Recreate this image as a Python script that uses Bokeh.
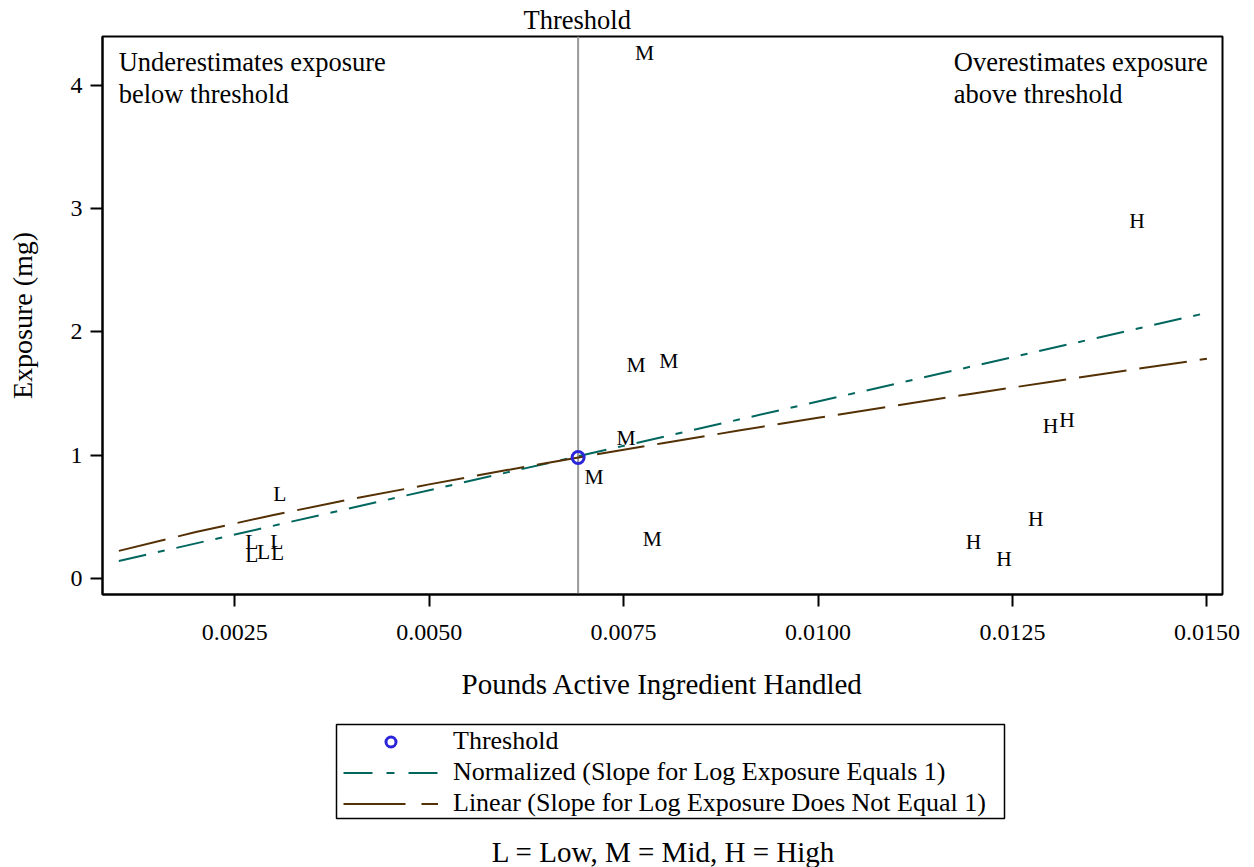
from bokeh.plotting import figure
from bokeh.layouts import column
from bokeh.models import (Span, Label, Legend, LegendItem, NumeralTickFormatter,
                          FixedTicker, Range1d, BoxAnnotation)
from bokeh.core.properties import value
from bokeh.embed import file_html
from bokeh.resources import INLINE

FONT = "Liberation Serif"
NAN = float("nan")

# ---- data ----
x_ticks = [0.0025, 0.0050, 0.0075, 0.0100, 0.0125, 0.0150]
y_ticks = [0, 1, 2, 3, 4]

low_x = [0.00308, 0.00272, 0.00272, 0.00287, 0.00304, 0.00305]
low_y = [0.684, 0.292, 0.188, 0.216, 0.292, 0.208]

mid_x = [0.00777, 0.00766, 0.00808, 0.00753, 0.00712, 0.00787]
mid_y = [4.260, 1.728, 1.765, 1.140, 0.818, 0.319]

high_x = [0.01410, 0.01299, 0.01320, 0.01280, 0.01200, 0.01239]
high_y = [2.904, 1.237, 1.284, 0.481, 0.297, 0.157]

threshold_x = [0.006915]
threshold_y = [0.980]

norm_x = [0.00101, 0.01500]
norm_y = [0.140, 2.155]

lin_x = [0.00101, 0.002, 0.003, 0.004, 0.005, 0.006, 0.007, 0.008,
         0.009, 0.010, 0.011, 0.012, 0.013, 0.014, 0.015]
lin_y = [0.222, 0.375, 0.514, 0.642, 0.762, 0.878, 0.989, 1.096,
         1.201, 1.303, 1.402, 1.500, 1.596, 1.690, 1.782]

legend_labels = ["Threshold",
                 "Normalized (Slope for Log Exposure Equals 1)",
                 "Linear (Slope for Log Exposure Does Not Equal 1)"]
footnote = "L = Low, M = Mid, H = High"

TEAL = "#01665E"
BROWN = "#543005"
BLUE = "#2A25D9"

# ---------------- main plot ----------------
p = figure(width=1254, height=710,
           x_range=Range1d(0.0008, 0.0152), y_range=Range1d(-0.132, 4.398),
           output_backend="svg", toolbar_location=None,
           min_border_left=102, min_border_right=32, min_border_top=35,
           min_border_bottom=116)

p.title.text = "Threshold"
p.title.align = "left"
p.title.offset = 421
p.title.text_font = FONT
p.title.text_font_size = "26.5px"
p.title.text_font_style = "normal"
p.title.text_color = "black"
p.title.standoff = 4

p.xgrid.visible = False
p.ygrid.visible = False
p.outline_line_color = "black"
p.outline_line_width = 2
p.outline_line_alpha = 1

p.xaxis.ticker = FixedTicker(ticks=x_ticks)
p.yaxis.ticker = FixedTicker(ticks=y_ticks)
p.xaxis.formatter = NumeralTickFormatter(format="0.0000")
p.xaxis.axis_label = "Pounds Active Ingredient Handled"
p.yaxis.axis_label = "Exposure (mg)"
for ax in (p.xaxis, p.yaxis):
    ax.axis_line_width = 2
    ax.axis_line_color = "black"
    ax.major_tick_out = 12
    ax.major_tick_in = 0
    ax.major_tick_line_width = 2
    ax.major_tick_line_color = "black"
    ax.minor_tick_line_color = None
    ax.major_label_text_font = FONT
    ax.major_label_text_font_size = "24px"
    ax.major_label_text_color = "black"
    ax.axis_label_text_font = FONT
    ax.axis_label_text_font_style = "normal"
    ax.axis_label_text_color = "black"
p.xaxis.axis_label_text_font_size = "29px"
p.yaxis.axis_label_text_font_size = "28px"
p.xaxis.major_label_standoff = 18
p.xaxis.axis_label_standoff = 25
p.yaxis.major_label_standoff = 8
p.yaxis.axis_label_standoff = 30

span = Span(location=threshold_x[0], dimension="height", line_color="#999999",
            line_width=2, level="underlay")
p.add_layout(span)

p.line(norm_x, norm_y, line_color=TEAL, line_width=2, line_dash="28 12 7 12")
p.line(lin_x, lin_y, line_color=BROWN, line_width=2, line_dash="48 13")
p.scatter(threshold_x, threshold_y, marker="circle", size=12,
          fill_color=None, line_color=BLUE, line_width=3)

for xs, ys, letter in ((low_x, low_y, "L"), (mid_x, mid_y, "M"), (high_x, high_y, "H")):
    p.text(x=xs, y=ys, text=[letter] * len(xs), text_font=value(FONT),
           text_font_size="21.5px", text_align="center", text_baseline="middle",
           text_color="black")

ann = dict(text_font=FONT, text_font_size="26.5px", text_color="black",
           text_baseline="middle")
p.add_layout(Label(x=0.001008, y=4.187, text="Underestimates exposure", text_align="left", **ann))
p.add_layout(Label(x=0.001008, y=3.928, text="below threshold", text_align="left", **ann))
p.add_layout(Label(x=0.011746, y=4.187, text="Overestimates exposure", text_align="left", **ann))
p.add_layout(Label(x=0.011746, y=3.928, text="above threshold", text_align="left", **ann))

# ---------------- legend + footnote strip (page-pixel coordinates) ----------------
q = figure(width=1254, height=157, x_range=Range1d(102, 1222), y_range=Range1d(867, 710),
           x_axis_type=None, y_axis_type=None, output_backend="svg",
           toolbar_location=None, min_border_left=102, min_border_right=32,
           min_border_top=0, min_border_bottom=0)
q.outline_line_color = None

# legend keys (no visible data of their own)
k_circ = q.scatter([NAN], [NAN], marker="circle", size=12, fill_color=None,
                   line_color=BLUE, line_width=3)
k_norm = q.line([NAN], [NAN], line_color=TEAL, line_width=2, line_dash="29 14 8 14")
k_lin = q.line([NAN], [NAN], line_color=BROWN, line_width=2, line_dash="62 16")

q.add_layout(BoxAnnotation(left=336, right=1004, top=724, bottom=818,
                           fill_alpha=0, line_color="black", line_width=1.5,
                           line_alpha=1))

legend = Legend(items=[
    LegendItem(label=legend_labels[0], renderers=[k_circ]),
    LegendItem(label=legend_labels[1], renderers=[k_norm]),
    LegendItem(label=legend_labels[2], renderers=[k_lin]),
], location=(241, 49), orientation="vertical")
legend.border_line_color = None
legend.background_fill_alpha = 0
legend.label_text_font = FONT
legend.label_text_font_size = "26px"
legend.label_text_color = "black"
legend.glyph_width = 95
legend.glyph_height = 25
legend.label_height = 25
legend.spacing = 1
legend.padding = 0
legend.margin = 0
legend.label_standoff = 15
q.add_layout(legend, "center")

q.add_layout(Label(x=663, y=851, text=footnote, text_align="center",
                   text_baseline="middle", text_font=FONT, text_font_size="29px",
                   text_color="black"))

layout = column(p, q, spacing=0)
open("out.html", "w").write(file_html(layout, INLINE))
